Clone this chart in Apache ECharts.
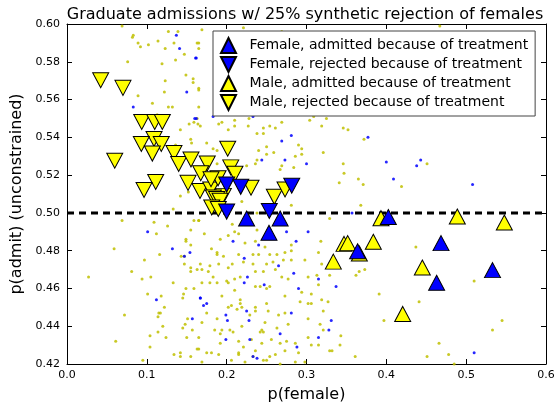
<!DOCTYPE html>
<html>
<head>
<meta charset="utf-8">
<script src="https://cdn.jsdelivr.net/npm/echarts@6/dist/echarts.min.js"></script>
<style>html,body{margin:0;padding:0;background:#fff}#c{width:558px;height:408px}</style>
</head>
<body>
<div id="c"></div>
<script>
const titleText = 'Graduate admissions w/ 25% synthetic rejection of females';
const xTickLabels = ['0.0','0.1','0.2','0.3','0.4','0.5','0.6'];
const yTickLabels = ['0.42','0.44','0.46','0.48','0.50','0.52','0.54','0.56','0.58','0.60'];
const seriesNames = ['Female, admitted because of treatment','Female, rejected because of treatment','Male, admitted because of treatment','Male, rejected because of treatment'];
const threshold = [[0,0.5],[0.6,0.5]];

const femaleAdmitted = [[0.225,0.497],[0.267,0.497],[0.253,0.4895],[0.4025,0.4978],[0.364,0.4797],[0.4685,0.484],[0.463,0.463],[0.533,0.4697]];
const femaleRejected = [[0.200,0.515],[0.2176,0.5138],[0.200,0.5007],[0.2534,0.501],[0.2815,0.5144]];
const maleAdmitted = [[0.3933,0.4972],[0.4889,0.4981],[0.5478,0.4949],[0.347,0.4836],[0.3516,0.484],[0.3662,0.4785],[0.3837,0.4847],[0.3336,0.4742],[0.4451,0.4711],[0.4205,0.4465]];
const maleRejected = [[0.0422,0.5702],[0.0701,0.5662],[0.0936,0.5481],[0.1099,0.5481],[0.1194,0.5481],[0.109,0.5391],[0.0931,0.5365],[0.1181,0.5365],[0.1069,0.5314],[0.0598,0.5276],[0.134,0.5317],[0.1399,0.5259],[0.1553,0.5283],[0.1111,0.5164],[0.0965,0.5121],[0.1516,0.5159],[0.2013,0.534],[0.1757,0.5262],[0.1675,0.521],[0.2051,0.5241],[0.1666,0.5116],[0.18,0.5124],[0.1892,0.5183],[0.2104,0.5207],[0.2305,0.5133],[0.1958,0.509],[0.1833,0.5081],[0.1875,0.5073],[0.1917,0.5064],[0.1813,0.5029],[0.1895,0.5021],[0.2597,0.5085],[0.2731,0.5124],[0.1804,0.5178]];

const sampleMale = [
[0.069,0.599],[0.083,0.594],[0.082,0.593],[0.089,0.590],[0.092,0.588],[0.102,0.589],[0.114,0.591],[0.127,0.596],[0.134,0.590],[0.139,0.596],[0.123,0.587],[0.163,0.590],[0.165,0.587],[0.147,0.584],[0.076,0.580],[0.119,0.579],[0.136,0.581],[0.149,0.573],[0.158,0.571],[0.158,0.569],[0.123,0.570],[0.165,0.565],[0.122,0.564],[0.089,0.562],[0.107,0.558],[0.127,0.556],[0.132,0.556],[0.113,0.552],[0.153,0.547],[0.159,0.548],[0.163,0.550],[0.142,0.544],[0.155,0.539],[0.156,0.537],[0.136,0.536],
[0.165,0.590],[0.165,0.566],[0.165,0.556],[0.164,0.547],[0.167,0.546],[0.169,0.597],[0.221,0.598],[0.190,0.547],[0.194,0.548],[0.210,0.549],[0.210,0.546],[0.227,0.546],[0.228,0.550],[0.246,0.545],[0.254,0.546],[0.261,0.545],[0.269,0.548],[0.304,0.549],[0.309,0.551],[0.325,0.550],[0.319,0.546],[0.202,0.544],[0.175,0.537],[0.183,0.534],[0.188,0.533],[0.238,0.542],[0.246,0.542],[0.290,0.536],[0.294,0.534],[0.250,0.535],[0.240,0.533],[0.250,0.531],[0.259,0.532],[0.238,0.528],[0.286,0.530],[0.294,0.531],[0.321,0.532],[0.269,0.525],[0.284,0.524],[0.267,0.523],[0.236,0.526],[0.225,0.525],[0.210,0.525],[0.188,0.526],
[0.142,0.509],[0.152,0.511],[0.133,0.502],[0.069,0.496],[0.109,0.495],[0.126,0.493],[0.112,0.489],[0.159,0.496],[0.165,0.496],[0.155,0.491],[0.149,0.486],[0.149,0.485],[0.155,0.483],[0.059,0.481],[0.116,0.478],[0.097,0.475],[0.143,0.477],[0.147,0.477],[0.147,0.473],[0.155,0.471],[0.155,0.469],[0.163,0.470],[0.081,0.469],[0.094,0.465],[0.105,0.466],[0.027,0.466],[0.133,0.463],[0.149,0.460],[0.159,0.460],[0.146,0.457],[0.145,0.455],[0.101,0.457],[0.118,0.456],[0.122,0.450],[0.115,0.447],[0.117,0.447],[0.114,0.445],[0.072,0.446],[0.151,0.444],[0.148,0.441],[0.157,0.438],[0.145,0.439],[0.120,0.440],[0.114,0.437],[0.124,0.434],[0.104,0.435],[0.150,0.434],[0.061,0.432],[0.163,0.428],[0.104,0.429],[0.134,0.425],[0.142,0.426],[0.142,0.424],[0.155,0.424],[0.095,0.422],
[0.219,0.506],[0.238,0.500],[0.281,0.504],[0.165,0.496],[0.172,0.489],[0.207,0.494],[0.210,0.490],[0.215,0.489],[0.238,0.491],[0.192,0.486],[0.202,0.488],[0.223,0.484],[0.236,0.485],[0.248,0.482],[0.256,0.489],[0.281,0.483],[0.318,0.485],[0.181,0.481],[0.188,0.479],[0.188,0.478],[0.196,0.477],[0.215,0.478],[0.233,0.478],[0.240,0.478],[0.254,0.478],[0.263,0.478],[0.273,0.479],[0.281,0.480],[0.315,0.479],[0.167,0.473],[0.179,0.472],[0.169,0.470],[0.177,0.469],[0.190,0.473],[0.202,0.471],[0.207,0.473],[0.221,0.474],[0.233,0.473],[0.250,0.473],[0.258,0.474],[0.271,0.475],[0.281,0.475],[0.298,0.475],[0.319,0.473],[0.183,0.466],[0.200,0.464],[0.210,0.465],[0.217,0.466],[0.236,0.469],[0.246,0.469],[0.261,0.470],[0.269,0.466],[0.277,0.465],[0.302,0.466],[0.313,0.467],[0.169,0.463],[0.179,0.463],[0.188,0.463],[0.202,0.463],[0.236,0.461],[0.242,0.461],[0.250,0.460],[0.254,0.461],[0.294,0.458],[0.315,0.462],[0.210,0.459],[0.194,0.456],[0.217,0.454],[0.217,0.452],[0.250,0.452],[0.273,0.456],[0.292,0.453],[0.306,0.457],[0.319,0.454],[0.202,0.450],[0.206,0.451],[0.213,0.449],[0.219,0.450],[0.236,0.450],[0.236,0.448],[0.229,0.446],[0.252,0.448],[0.273,0.447],[0.265,0.446],[0.302,0.452],[0.306,0.452],[0.321,0.448],[0.175,0.447],[0.188,0.444],[0.169,0.442],[0.185,0.438],[0.192,0.436],[0.192,0.431],[0.194,0.438],[0.204,0.438],[0.208,0.437],[0.219,0.440],[0.244,0.438],[0.246,0.437],[0.242,0.437],[0.248,0.442],[0.263,0.439],[0.277,0.441],[0.302,0.444],[0.317,0.441],[0.321,0.438],[0.302,0.434],[0.165,0.434],[0.165,0.428],[0.175,0.426],[0.181,0.426],[0.190,0.425],[0.215,0.432],[0.215,0.426],[0.221,0.429],[0.231,0.433],[0.236,0.427],[0.244,0.431],[0.256,0.433],[0.267,0.431],[0.275,0.432],[0.273,0.427],[0.286,0.431],[0.290,0.426],[0.306,0.430],[0.315,0.430],[0.169,0.421],[0.206,0.422],[0.215,0.425],[0.223,0.421],[0.233,0.424],[0.246,0.422],[0.250,0.422],[0.254,0.424],[0.261,0.425],[0.267,0.420],[0.286,0.421],[0.298,0.421],
[0.346,0.545],[0.352,0.544],[0.372,0.539],[0.346,0.526],[0.451,0.526],[0.347,0.521],[0.341,0.516],[0.365,0.518],[0.371,0.515],[0.419,0.514],[0.368,0.504],[0.329,0.497],[0.437,0.482],[0.329,0.467],[0.362,0.467],[0.366,0.469],[0.373,0.470],[0.510,0.464],[0.391,0.457],[0.327,0.453],[0.441,0.453],[0.397,0.443],[0.545,0.443],[0.533,0.438],[0.343,0.435],[0.342,0.430],[0.329,0.427],[0.332,0.427],[0.466,0.431],[0.361,0.424],[0.451,0.424],[0.478,0.425],[0.485,0.420],
[0.467,0.599],[0.269,0.596]
];
const sampleFemale = [
[0.137,0.594],[0.141,0.587],[0.161,0.582],[0.150,0.564],[0.083,0.556],[0.160,0.550],
[0.162,0.582],[0.162,0.550],[0.183,0.551],[0.233,0.551],[0.281,0.541],[0.269,0.538],[0.244,0.528],[0.273,0.528],[0.300,0.526],
[0.101,0.490],[0.132,0.481],[0.147,0.477],[0.154,0.479],[0.112,0.454],[0.157,0.444],[0.167,0.455],
[0.208,0.485],[0.240,0.483],[0.222,0.476],[0.226,0.466],[0.222,0.463],[0.247,0.462],[0.265,0.472],[0.275,0.490],[0.287,0.485],[0.302,0.490],[0.284,0.468],[0.290,0.460],[0.315,0.465],[0.167,0.455],[0.171,0.451],[0.175,0.452],[0.199,0.446],[0.201,0.443],[0.225,0.448],[0.228,0.443],[0.267,0.436],[0.281,0.447],[0.199,0.433],[0.229,0.433],[0.288,0.429],[0.315,0.434],[0.233,0.424],[0.238,0.423],
[0.377,0.540],[0.400,0.527],[0.443,0.528],[0.438,0.525],[0.409,0.518],[0.508,0.515],[0.357,0.500],[0.337,0.461],[0.331,0.443],[0.328,0.438],[0.510,0.426]
];

const FONT = 'DejaVu Sans';
const chart = echarts.init(document.getElementById('c'), null, {renderer: 'canvas'});
const UP = 'path://M1,0 L2,2 L0,2 Z';
const DOWN = 'path://M0,0 L2,0 L1,2 Z';
const edge = c => ({color: c, borderColor: '#000', borderWidth: 1, opacity: 1});
const boxAxis = (extra) => Object.assign({
  type: 'value',
  axisLine: {show: true, onZero: false, lineStyle: {color: '#000', width: 1}},
  axisTick: {show: true, inside: true, length: 5, lineStyle: {color: '#000'}},
  splitLine: {show: false}
}, extra);

chart.setOption({
  animation: false,
  textStyle: {fontFamily: FONT, color: '#000'},
  title: {text: titleText, left: 300, top: 2, textAlign: 'center',
    textStyle: {fontFamily: FONT, fontSize: 16, fontWeight: 'normal', color: '#000'}},
  grid: {left: 67, top: 24, width: 479, height: 348},
  legend: {
    data: seriesNames, orient: 'vertical', left: 213, top: 31,
    itemWidth: 16, itemHeight: 15, itemGap: 2,
    padding: [6, 7, 5, 7],
    backgroundColor: '#fff', borderColor: '#444', borderWidth: 1, borderRadius: 0,
    textStyle: {fontFamily: FONT, fontSize: 14, color: '#000', padding: [0, 0, 0, 8]},
    z: 10
  },
  xAxis: [
    boxAxis({min: 0, max: 0.6, interval: 0.1, position: 'bottom',
      axisLabel: {fontFamily: FONT, fontSize: 11, color: '#000', margin: 6,
        formatter: v => xTickLabels[Math.round(v * 10)]},
      name: 'p(female)', nameLocation: 'middle', nameGap: 23,
      nameTextStyle: {fontFamily: FONT, fontSize: 16, color: '#000'}}),
    boxAxis({min: 0, max: 0.6, interval: 0.1, position: 'top', axisLabel: {show: false}})
  ],
  yAxis: [
    boxAxis({min: 0.42, max: 0.6, interval: 0.02, position: 'left',
      axisLabel: {fontFamily: FONT, fontSize: 11, color: '#000', margin: 7,
        formatter: v => yTickLabels[Math.round((v - 0.42) / 0.02)]},
      name: 'p(admit) (unconstrained)', nameLocation: 'middle', nameGap: 42,
      nameTextStyle: {fontFamily: FONT, fontSize: 16, color: '#000'}}),
    boxAxis({min: 0.42, max: 0.6, interval: 0.02, position: 'right', axisLabel: {show: false}})
  ],
  series: [
    {type: 'line', data: threshold, showSymbol: false, symbol: 'none', silent: true, z: 1,
      lineStyle: {color: '#000', width: 3, type: [7, 5]}},
    {type: 'scatter', data: sampleMale, symbol: 'circle', symbolSize: 3, silent: true, z: 2,
      itemStyle: {color: '#bfbf00', opacity: 0.85}},
    {type: 'scatter', data: sampleFemale, symbol: 'circle', symbolSize: 3, silent: true, z: 2,
      itemStyle: {color: '#0000ff', opacity: 0.85}},
    {type: 'scatter', name: seriesNames[2], data: maleAdmitted, z: 3, symbol: UP, symbolSize: [16, 15], itemStyle: edge('#ffff00')},
    {type: 'scatter', name: seriesNames[3], data: maleRejected, z: 3, symbol: DOWN, symbolSize: [16, 15], itemStyle: edge('#ffff00')},
    {type: 'scatter', name: seriesNames[0], data: femaleAdmitted, z: 4, symbol: UP, symbolSize: [16, 15], itemStyle: edge('#0000ff')},
    {type: 'scatter', name: seriesNames[1], data: femaleRejected, z: 4, symbol: DOWN, symbolSize: [16, 15], itemStyle: edge('#0000ff')}
  ]
});
</script>
</body>
</html>
